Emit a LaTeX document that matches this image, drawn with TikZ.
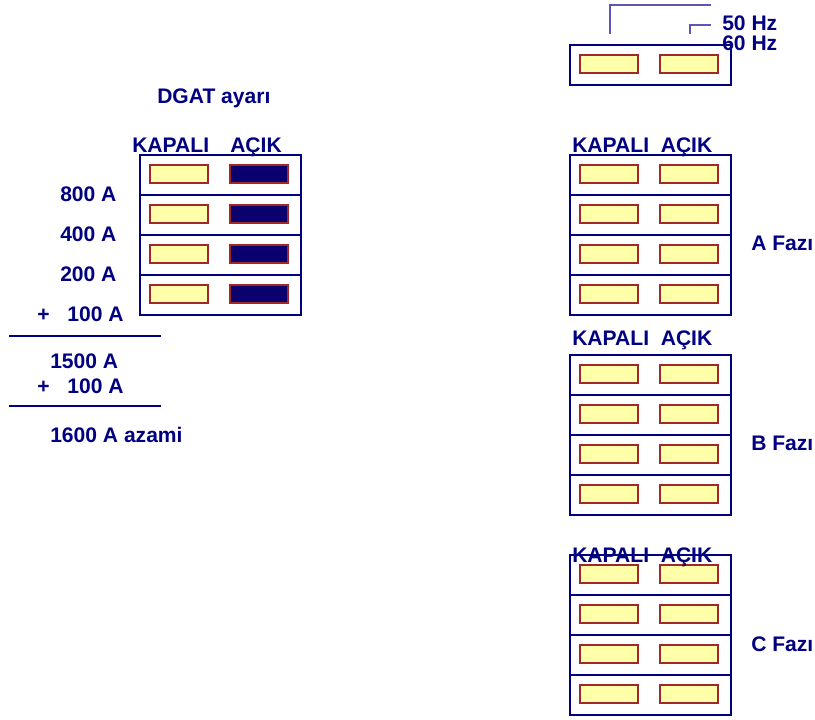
\documentclass[tikz,border=0pt]{standalone}
\usepackage{fontspec}
\setmainfont{Liberation Sans}
\usetikzlibrary{positioning}
\definecolor{navyblue}{RGB}{0,0,128}
\definecolor{swfill}{RGB}{255,255,170}
\definecolor{swedge}{RGB}{160,40,40}
\definecolor{swdark}{RGB}{10,0,110}
\definecolor{leadblue}{RGB}{95,85,180}
\tikzset{
  lbl/.style    = {font=\fontsize{15.8}{19}\selectfont\bfseries, text=navyblue,
                   inner sep=0pt, anchor=base west},
  cell/.style   = {draw=navyblue, line width=1.5pt},
  sw/.style     = {rectangle, draw=swedge, line width=1pt, fill=swfill,
                   minimum width=43.5pt, minimum height=13.5pt, inner sep=0pt},
  swon/.style   = {sw, fill=swdark},
  lead/.style   = {draw=leadblue, line width=0.8pt},
  sumline/.style = {draw=navyblue, line width=1.2pt},
}

\begin{document}
\begin{tikzpicture}[x=0.75pt, y=-0.75pt]
  \useasboundingbox (0,0) rectangle (815,719);

  % DGAT setting, left
  \node[lbl] (title) at (157,103) {DGAT ayarı};
  \node[lbl] (offL) at (132,152) {KAPALI};
  \node[lbl] (onL) at (230,152) {AÇIK};
  \foreach \k in {0,...,3} {
    \draw[cell] (140,155+40*\k) rectangle (301,195+40*\k);
    \node[sw] (dk\k) at (179,174+40*\k) {};
    \node[swon] (dd\k) at (259,174+40*\k) {};
  }
  \node[lbl] (v800) at (60,201) {800 A};
  \node[lbl] (v400) at (60,241) {400 A};
  \node[lbl] (v200) at (60,281) {200 A};
  \node[lbl] (v100) at (37,321) {+\hspace{0.85em}100 A};
  \coordinate (r1a) at (9,336);
  \coordinate (r1b) at (161,336);
  \draw[sumline] (r1a) -- (r1b);
  \node[lbl] (v1500) at (50,368) {1500 A};
  \node[lbl] (v100b) at (37,393) {+\hspace{0.85em}100 A};
  \coordinate (r2a) at (9,406);
  \coordinate (r2b) at (161,406);
  \draw[sumline] (r2a) -- (r2b);
  \node[lbl] (vmax) at (50,442) {1600 A azami};

  % frequency selector, top right
  \draw[cell] (570,45) rectangle (731,85);
  \node[sw] (f1) at (609,64) {};
  \node[sw] (f2) at (689,64) {};
  \node[lbl] (hz50) at (722,30) {50 Hz};
  \node[lbl] (hz60) at (722,50) {60 Hz};
  \coordinate (l1) at (610,34);
  \coordinate (t1) at (711,5);
  \coordinate (l2) at (690,34);
  \coordinate (t2) at (711,25);
  \draw[lead] (l1) |- (t1);
  \draw[lead] (l2) |- (t2);

  % phase blocks A, B, C
  \foreach \ph/\top/\hd/\fz in {A/155/152/250, B/355/345/450, C/555/562/651} {
    \foreach \k in {0,...,3} {
      \draw[cell] (570,\top+40*\k) rectangle (731,\top+40+40*\k);
      \node[sw] (k\ph\k) at (609,\top+19+40*\k) {};
      \node[sw] (a\ph\k) at (689,\top+19+40*\k) {};
    }
    \node[lbl] (hd\ph) at (572,\hd) {KAPALI\ \ AÇIK};
    \node[lbl] (fz\ph) at (751,\fz) {\ph\ Fazı};
  }
\end{tikzpicture}
\end{document}
